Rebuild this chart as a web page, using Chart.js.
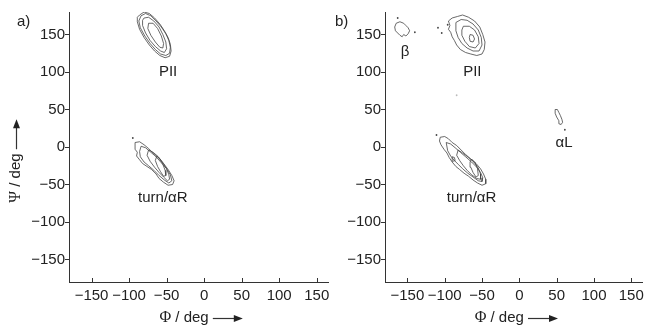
<!DOCTYPE html>
<html>
<head>
<meta charset="utf-8">
<script src="https://cdn.jsdelivr.net/npm/chart.js@4.4.1/dist/chart.umd.min.js"></script>
<style>
    html, body { margin: 0; padding: 0; background: #fff; }
    #wrap { position: relative; width: 649px; height: 330px; overflow: hidden; }
    canvas { position: absolute; top: 0; }
    #ca { left: 0; }
    #cb { left: 320px; }
</style>
</head>
<body>
<div id="wrap">
    <canvas id="ca" width="335" height="330"></canvas>
    <canvas id="cb" width="329" height="330"></canvas>
</div>
<script>
// ---------------- DATA ----------------
const xTicks = [-150, -100, -50, 0, 50, 100, 150];
const yTicks = [-150, -100, -50, 0, 50, 100, 150];

// panel a) contours  [phi, psi]
const aPII1 = [[-86,176],[-80,180],[-73,178],[-66,172],[-59,164],[-53,155],[-48,146],[-45,137],[-44,128],[-46,121],[-52,119],[-59,122],[-66,128],[-73,136],[-80,146],[-86,157],[-89,167],[-89,173],[-86,176]];
const aPII2 = [[-84,175],[-78,178],[-71,175],[-64,168],[-57,160],[-51,151],[-47,142],[-45,133],[-46,125],[-51,122],[-58,124],[-65,130],[-72,138],[-79,148],[-85,159],[-87,168],[-84,175]];
const aPII3 = [[-80,172],[-74,173],[-67,168],[-60,160],[-55,150],[-51,140],[-50,131],[-53,126],[-58,128],[-65,134],[-72,142],[-78,152],[-82,162],[-82,169],[-80,172]];
const aPII4 = [[-74,165],[-68,165],[-62,158],[-57,148],[-54,138],[-55,132],[-59,133],[-65,140],[-71,149],[-75,158],[-74,165]];

const aTurn1 = [[-92,6],[-86,7],[-80,3],[-74,-2],[-68,-8],[-60,-15],[-54,-22],[-48,-30],[-43,-38],[-40,-45],[-42,-50],[-48,-51],[-54,-47],[-60,-42],[-64,-36],[-70,-30],[-76,-26],[-82,-22],[-86,-17],[-90,-12],[-89,-7],[-92,-3],[-92,6]];
const aTurn2 = [[-84,1],[-78,-1],[-71,-7],[-64,-13],[-57,-21],[-50,-29],[-45,-37],[-43,-45],[-47,-48],[-53,-44],[-60,-38],[-67,-31],[-74,-25],[-80,-20],[-85,-13],[-86,-6],[-84,1]];
const aTurn3 = [[-74,-4],[-68,-7],[-61,-13],[-55,-21],[-50,-29],[-47,-37],[-46,-43],[-49,-45],[-54,-40],[-60,-34],[-66,-27],[-72,-19],[-76,-11],[-74,-4]];
const aTurn4 = [[-63,-12],[-59,-16],[-55,-23],[-52,-31],[-51,-38],[-54,-39],[-58,-33],[-62,-26],[-65,-18],[-63,-12]];
const aDots = [[-95,12]];

// panel b) contours
const bBeta = [[-165,165],[-160,167],[-155,165],[-152,162],[-149,159],[-147,155],[-149,151],[-152,148],[-155,150],[-157,147],[-160,149],[-163,152],[-166,155],[-167,160],[-165,165]];

const bPII1 = [[-95,168],[-90,172],[-83,174],[-76,176],[-68,173],[-60,168],[-53,160],[-49,150],[-46,140],[-47,130],[-50,124],[-57,122],[-65,124],[-72,126],[-79,130],[-84,136],[-87,142],[-90,147],[-92,153],[-95,157],[-93,162],[-95,168]];
const bPII2 = [[-85,166],[-78,170],[-70,169],[-62,164],[-55,156],[-51,146],[-50,136],[-54,128],[-62,128],[-70,132],[-77,138],[-82,146],[-85,155],[-85,166]];
const bPII3 = [[-75,161],[-67,161],[-60,156],[-55,147],[-54,138],[-59,132],[-67,134],[-73,141],[-77,149],[-77,156],[-75,161]];
const bPII4 = [[-66,150],[-62,149],[-60,144],[-62,140],[-66,141],[-67,146],[-66,150]];

const bTurn1 = [[-106,13],[-100,14],[-95,11],[-90,6],[-84,2],[-78,-4],[-72,-10],[-65,-16],[-58,-22],[-52,-29],[-48,-36],[-45,-43],[-45,-49],[-50,-51],[-56,-48],[-62,-44],[-68,-39],[-74,-35],[-80,-30],[-85,-26],[-90,-20],[-94,-14],[-97,-8],[-101,-3],[-105,3],[-107,8],[-106,13]];
const bTurn2 = [[-98,6],[-92,4],[-86,-1],[-79,-7],[-72,-13],[-64,-20],[-57,-27],[-52,-34],[-49,-41],[-50,-46],[-55,-45],[-62,-40],[-69,-35],[-76,-29],[-82,-23],[-87,-18],[-92,-12],[-96,-5],[-98,6]];
const bTurn3 = [[-82,-4],[-76,-8],[-68,-14],[-61,-20],[-55,-28],[-52,-36],[-52,-43],[-57,-42],[-64,-37],[-70,-31],[-75,-25],[-80,-18],[-84,-11],[-82,-4]];
const bTurn4 = [[-64,-16],[-59,-21],[-56,-29],[-55,-38],[-58,-40],[-62,-34],[-65,-27],[-66,-20],[-64,-16]];
const bTurn5 = [[-90,-13],[-87,-14],[-86,-18],[-89,-19],[-90,-13]];

const bAlphaL = [[48,50],[51,50],[53,46],[55,42],[57,37],[58,33],[56,30],[53,31],[53,35],[50,40],[48,45],[48,50]];
const bDots = [[-163,172],[-140,153],[-109,159],[-104,152],[-96,163],[-111,16],[61,23]];
const bFaint = [[-84,69]];

// region labels  [text, phi, psi]
const aLabels = [["PII", -48, 100], ["turn/\u03b1R", -55, -68]];
const bLabels = [["\u03b2", -153, 127], ["PII", -63, 100], ["turn/\u03b1R", -64, -68], ["\u03b1L", 60, 5]];

// ---------------- HELPERS ----------------
const FONT = '"Liberation Sans", Arial, sans-serif';
const INK = "#222";

function contour(pts) {
    return {
        data: pts.map(p => ({ x: p[0], y: p[1] })),
        showLine: true,
        borderColor: "#444",
        borderWidth: 0.8,
        pointRadius: 0,
        fill: false,
        tension: 0
    };
}

function dots(pts, color) {
    return {
        data: pts.map(p => ({ x: p[0], y: p[1] })),
        showLine: false,
        pointRadius: 0.9,
        pointBorderWidth: 0,
        pointBackgroundColor: color
    };
}

function minus(v) {
    return String(v).replace("-", "\u2212");
}

// title like "Φ / deg ⟶" drawn along +x of the current transform, centred at 0
function drawTitle(ctx, greek) {
    ctx.font = "16px 'Liberation Serif', serif";
    const wg = ctx.measureText(greek).width;
    ctx.font = "15px " + FONT;
    const rest = " / deg ";
    const wr = ctx.measureText(rest).width;
    const wa = 30;
    let x0 = -(wg + wr + wa) / 2;
    ctx.textAlign = "left";
    ctx.textBaseline = "middle";
    ctx.font = "16px 'Liberation Serif', serif";
    ctx.fillText(greek, x0, 0);
    ctx.font = "15px " + FONT;
    ctx.fillText(rest, x0 + wg, 0);
    const ax = x0 + wg + wr;
    ctx.beginPath();
    ctx.moveTo(ax, 0.5);
    ctx.lineTo(ax + wa - 6, 0.5);
    ctx.lineWidth = 1.2;
    ctx.stroke();
    ctx.beginPath();
    ctx.moveTo(ax + wa, 0.5);
    ctx.lineTo(ax + wa - 9, -3);
    ctx.lineTo(ax + wa - 9, 4);
    ctx.closePath();
    ctx.fill();
}

const extras = {
    id: "extras",
    afterDraw(chart, args, opts) {
        const { ctx, scales: { x, y } } = chart;
        ctx.save();
        ctx.fillStyle = INK;
        ctx.strokeStyle = "#333";

        // inward tick marks on the phi axis
        ctx.lineWidth = 1;
        xTicks.forEach(v => {
            const px = Math.round(x.getPixelForValue(v)) + 0.5;
            ctx.beginPath();
            ctx.moveTo(px, y.bottom);
            ctx.lineTo(px, y.bottom - 4);
            ctx.stroke();
        });

        // region names
        ctx.font = "15px " + FONT;
        ctx.textAlign = "center";
        ctx.textBaseline = "middle";
        opts.labels.forEach(l => {
            ctx.fillText(l[0], x.getPixelForValue(l[1]), y.getPixelForValue(l[2]));
        });

        // panel letter
        ctx.textAlign = "left";
        ctx.fillText(opts.letter, opts.letterX, 22);

        // phi title
        ctx.save();
        ctx.translate(x.getPixelForValue(0) - 3, 318);
        drawTitle(ctx, "\u03a6");
        ctx.restore();

        // psi title
        if (opts.yTitle) {
            ctx.save();
            ctx.translate(16, 161);
            ctx.rotate(-Math.PI / 2);
            drawTitle(ctx, "\u03a8");
            ctx.restore();
        }
        ctx.restore();
    }
};

function makePanel(id, sets, labels, letter, letterX, yWidth, padRight, yTitle) {
    return new Chart(document.getElementById(id), {
        type: "scatter",
        data: { datasets: sets },
        plugins: [extras],
        options: {
            responsive: false,
            animation: false,
            layout: { padding: { left: 0, right: padRight, top: 12, bottom: 0 } },
            plugins: {
                legend: { display: false },
                tooltip: { enabled: false },
                extras: { labels, letter, letterX, yTitle }
            },
            scales: {
                x: {
                    type: "linear",
                    min: -180,
                    max: 165,
                    afterBuildTicks: s => { s.ticks = xTicks.map(v => ({ value: v })); },
                    afterFit: s => { s.height = 48; },
                    grid: { display: true, drawOnChartArea: false, drawTicks: false },
                    border: { display: true, color: "#333", width: 1 },
                    ticks: {
                        color: INK,
                        font: { family: FONT, size: 15 },
                        padding: 5,
                        maxRotation: 0,
                        autoSkip: false,
                        callback: v => minus(v)
                    }
                },
                y: {
                    type: "linear",
                    min: -180,
                    max: 180,
                    afterBuildTicks: s => { s.ticks = yTicks.map(v => ({ value: v })); },
                    afterFit: s => { s.width = yWidth; },
                    grid: { display: true, drawOnChartArea: false, drawTicks: true, tickLength: 4, color: "#333" },
                    border: { display: true, color: "#333", width: 1 },
                    ticks: {
                        color: INK,
                        font: { family: FONT, size: 15 },
                        padding: 0,
                        autoSkip: false,
                        callback: v => minus(v)
                    }
                }
            }
        }
    });
}

// ---------------- PANELS ----------------
makePanel("ca",
    [aPII1, aPII2, aPII3, aPII4, aTurn1, aTurn2, aTurn3, aTurn4].map(contour).concat([dots(aDots, "#444")]),
    aLabels, "a)", 17, 69, 7, true);

makePanel("cb",
    [bBeta, bPII1, bPII2, bPII3, bPII4, bTurn1, bTurn2, bTurn3, bTurn4, bTurn5, bAlphaL].map(contour)
        .concat([dots(bDots, "#444"), dots(bFaint, "#bbb")]),
    bLabels, "b)", 15, 65, 5, false);
</script>
</body>
</html>
